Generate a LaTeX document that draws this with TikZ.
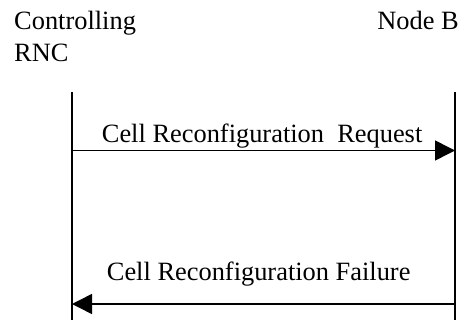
\documentclass[tikz,border=0pt]{standalone}
\usepackage{fontspec}
\setmainfont{Liberation Serif}
\usetikzlibrary{arrows.meta}
\begin{document}
\begin{tikzpicture}[x=1pt,y=-1pt,
  lbl/.style={inner sep=0pt, font=\fontsize{26.4}{31}\selectfont},
  life/.style={line width=1.5pt},
  msg/.style={line width=1.5pt, -{Triangle[length=20pt,width=20pt]}}]
\useasboundingbox (0,0) rectangle (462,320);
\node[lbl, anchor=base west] (c1) at (14,29.5) {Controlling};
\node[lbl, anchor=base west] (c2) at (14,62) {RNC};
\node[lbl, anchor=base east] (nb) at (459,29.5) {Node B};
\coordinate (lt) at (72,92.5);
\coordinate (lb) at (72,320);
\coordinate (rt) at (455,92.5);
\coordinate (rb) at (455,320);
\draw[life] (lt) -- (lb);
\draw[life] (rt) -- (rb);
\coordinate (m1s) at (72,150.5);
\coordinate (m1e) at (455,150.5);
\coordinate (m2s) at (455,304);
\coordinate (m2e) at (72,304);
\draw[msg] (m1s) -- (m1e);
\draw[msg] (m2s) -- (m2e);
\node[lbl, anchor=base west] (t1) at (101.7,142.7) {Cell Reconfiguration~~Request};
\node[lbl, anchor=base west] (t2) at (106.7,280.7) {Cell Reconfiguration Failure};
\end{tikzpicture}
\end{document}
